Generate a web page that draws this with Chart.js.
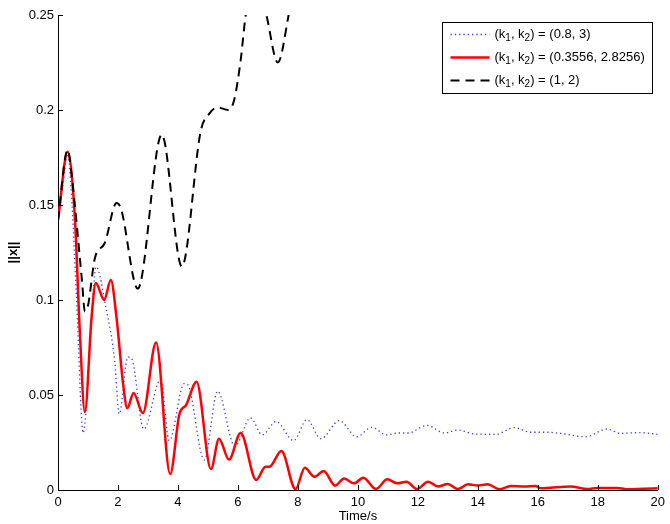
<!DOCTYPE html>
<html>
<head>
<meta charset="utf-8">
<script src="https://cdn.jsdelivr.net/npm/chart.js@4/dist/chart.umd.min.js"></script>
<style>
  html, body { margin: 0; padding: 0; background: #fff; }
  canvas { display: block; }
</style>
</head>
<body>
<canvas id="myChart" width="670" height="524"></canvas>
<script>
// Series (time in s, norm ||x||)
const blueTime = [0, 0.16, 0.32, 0.45, 0.62, 0.84, 1.06, 1.27, 1.61, 1.89, 2.04, 2.33, 2.46, 2.86, 3.42, 3.71, 4.21, 4.32, 4.88, 5.32, 5.9, 6.42, 6.81, 7.27, 7.86, 8.3, 8.77, 9.38, 9.96, 10.46, 10.96, 11.35, 11.68, 12.3, 12.89, 13.33, 13.89, 14.6, 15.21, 15.77, 16.32, 16.87, 17.59, 18.31, 18.75, 19.41, 20];
const blueNorm = [0.142, 0.160, 0.177, 0.155, 0.100, 0.030, 0.074, 0.1175, 0.095, 0.068, 0.040, 0.070, 0.069, 0.032, 0.058, 0.026, 0.056, 0.0555, 0.0158, 0.052, 0.023, 0.038, 0.029, 0.036, 0.026, 0.037, 0.027, 0.0365, 0.028, 0.033, 0.029, 0.030, 0.030, 0.034, 0.030, 0.0316, 0.0295, 0.0293, 0.0328, 0.0304, 0.0304, 0.0295, 0.028, 0.0321, 0.0298, 0.0302, 0.0293];

const redTime = [0, 0.32, 0.56, 0.73, 0.895, 1.12, 1.26, 1.54, 1.76, 1.95, 2.17, 2.31, 2.52, 2.83, 3.27, 3.74, 4.05, 4.27, 4.62, 5.1, 5.37, 5.7, 6.09, 6.61, 6.92, 7.05, 7.45, 7.92, 8.23, 8.55, 8.86, 9.24, 9.54, 9.87, 10.18, 10.6, 10.98, 11.32, 11.62, 11.97, 12.34, 12.67, 13.0, 13.33, 13.67, 14.0, 14.33, 14.72, 15.1, 15.56, 15.93, 16.09, 16.41, 17.09, 17.65, 17.98, 18.64, 18.97, 19.52, 20];
const redNorm = [0.142, 0.178, 0.144, 0.0825, 0.041, 0.091, 0.109, 0.100, 0.1105, 0.091, 0.056, 0.043, 0.051, 0.0405, 0.0776, 0.0084, 0.040, 0.0447, 0.057, 0.011, 0.027, 0.016, 0.030, 0.0053, 0.0123, 0.0123, 0.0205, 0.0004, 0.0117, 0.007, 0.010, 0.0023, 0.0061, 0.0035, 0.0065, 0.0005, 0.0056, 0.0035, 0.0044, 0.0005, 0.0044, 0.0018, 0.0032, 0.0005, 0.003, 0.0024, 0.003, 0.0004, 0.0021, 0.0018, 0.0021, 0.0009, 0.0012, 0.0018, 0.0005, 0.0011, 0.0011, 0.0004, 0.0007, 0.0009];

const blackTime = [0, 0.32, 0.46, 0.8, 0.895, 1.0, 1.23, 1.56, 1.95, 2.1, 2.66, 3.46, 4.13, 4.76, 5.04, 5.32, 5.67, 5.87, 6.09, 6.26, 6.6, 6.95, 7.33, 7.69, 7.9];
const blackNorm = [0.142, 0.179, 0.165, 0.110, 0.094, 0.097, 0.122, 0.130, 0.151, 0.148, 0.106, 0.187, 0.1176, 0.189, 0.198, 0.2014, 0.200, 0.205, 0.226, 0.25, 0.272, 0.25, 0.225, 0.25, 0.27];

const seriesLabels = ['(k₁, k₂) = (0.8, 3)', '(k₁, k₂) = (0.3556, 2.8256)', '(k₁, k₂) = (1, 2)'];
const xTickLabels = ['0', '2', '4', '6', '8', '10', '12', '14', '16', '18', '20'];
const yTickLabels = ['0', '0.05', '0.1', '0.15', '0.2', '0.25'];

const FONT = '"Liberation Sans", Arial, Helvetica, sans-serif';

function toPoints(xs, ys) {
  return xs.map((x, i) => ({ x: x, y: ys[i] }));
}

// ticks pointing into the plot, like matlab
const innerTicks = {
  id: 'innerTicks',
  afterDraw(chart) {
    const { ctx, chartArea, scales: { x, y } } = chart;
    ctx.save();
    ctx.strokeStyle = '#000';
    ctx.lineWidth = 1;
    ctx.beginPath();
    x.ticks.forEach(t => {
      const px = Math.round(x.getPixelForValue(t.value)) + 0.5;
      ctx.moveTo(px, chartArea.bottom);
      ctx.lineTo(px, chartArea.bottom - 5);
    });
    y.ticks.forEach(t => {
      const py = Math.round(y.getPixelForValue(t.value)) + 0.5;
      ctx.moveTo(chartArea.left, py);
      ctx.lineTo(chartArea.left + 5, py);
    });
    ctx.stroke();
    ctx.restore();
  }
};

// text with ₁ ₂ drawn as real subscripts
function drawSubText(ctx, text, x, y) {
  const subs = { '₁': '1', '₂': '2' };
  let run = '';
  const flush = () => {
    if (!run) return;
    ctx.font = '13px ' + FONT;
    ctx.fillText(run, x, y);
    x += ctx.measureText(run).width;
    run = '';
  };
  for (const ch of text) {
    if (subs[ch]) {
      flush();
      ctx.font = '10px ' + FONT;
      ctx.fillText(subs[ch], x, y + 4);
      x += ctx.measureText(subs[ch]).width;
    } else {
      run += ch;
    }
  }
  flush();
}

// boxed legend inside the top right corner
const boxLegend = {
  id: 'boxLegend',
  afterDraw(chart) {
    const { ctx, chartArea } = chart;
    const w = 210, h = 71;
    const left = Math.round(chartArea.right - 6 - w) + 0.5;
    const top = Math.round(chartArea.top + 7) + 0.5;
    ctx.save();
    ctx.fillStyle = '#fff';
    ctx.fillRect(left, top, w, h);
    ctx.strokeStyle = '#000';
    ctx.lineWidth = 1;
    ctx.strokeRect(left, top, w, h);

    chart.data.datasets.forEach((ds, i) => {
      const yy = top + 12 + i * 23;
      ctx.save();
      ctx.strokeStyle = ds.borderColor;
      ctx.lineWidth = ds.borderWidth;
      ctx.setLineDash(ds.borderDash || []);
      ctx.beginPath();
      ctx.moveTo(left + 8, yy);
      ctx.lineTo(left + 47, yy);
      ctx.stroke();
      ctx.restore();

      ctx.fillStyle = '#000';
      ctx.textBaseline = 'middle';
      ctx.textAlign = 'left';
      drawSubText(ctx, ds.label, left + 52, yy);
    });
    ctx.restore();
  }
};

window.addEventListener('DOMContentLoaded', function () {
  Chart.defaults.font.family = FONT;
  Chart.defaults.font.size = 13;
  Chart.defaults.color = '#000';

  const ctx = document.getElementById('myChart').getContext('2d');

  const data = {
    datasets: [{
      label: seriesLabels[0],
      data: toPoints(blueTime, blueNorm),
      borderColor: 'rgba(20, 20, 255, 0.85)',
      borderWidth: 1.3,
      borderDash: [1.3, 3],
      order: 2
    },
    {
      label: seriesLabels[1],
      data: toPoints(redTime, redNorm),
      borderColor: '#ff0000',
      borderWidth: 2.5,
      order: 1
    },
    {
      label: seriesLabels[2],
      data: toPoints(blackTime, blackNorm),
      borderColor: '#000000',
      borderWidth: 2,
      borderDash: [9, 6],
      order: 0
    }]
  };

  new Chart(ctx, {
    type: 'line',
    data: data,
    plugins: [innerTicks, boxLegend],
    options: {
      responsive: false,
      animation: false,
      layout: { padding: { top: 15, right: 9, left: 0, bottom: 0 } },
      elements: {
        point: { radius: 0 },
        line: { cubicInterpolationMode: 'monotone', fill: false }
      },
      plugins: {
        legend: { display: false },
        tooltip: { enabled: false }
      },
      scales: {
        x: {
          type: 'linear',
          min: 0,
          max: 20,
          ticks: {
            stepSize: 2,
            padding: 5,
            maxRotation: 0,
            callback: (v, i) => xTickLabels[i]
          },
          grid: { display: false, drawTicks: false },
          border: { display: true, color: '#000', width: 1 },
          title: {
            display: true,
            text: 'Time/s',
            padding: { top: 0, bottom: 0 }
          },
          afterFit: (s) => { s.height = 34; }
        },
        y: {
          type: 'linear',
          min: 0,
          max: 0.25,
          ticks: {
            stepSize: 0.05,
            padding: 4,
            callback: (v, i) => yTickLabels[i]
          },
          grid: { display: false, drawTicks: false },
          border: { display: true, color: '#000', width: 1 },
          title: {
            display: true,
            text: '||x||',
            font: { weight: 'bold' },
            padding: { top: 6, bottom: 0 }
          },
          afterFit: (s) => { s.width = 58; }
        }
      }
    }
  });
});
</script>
</body>
</html>
